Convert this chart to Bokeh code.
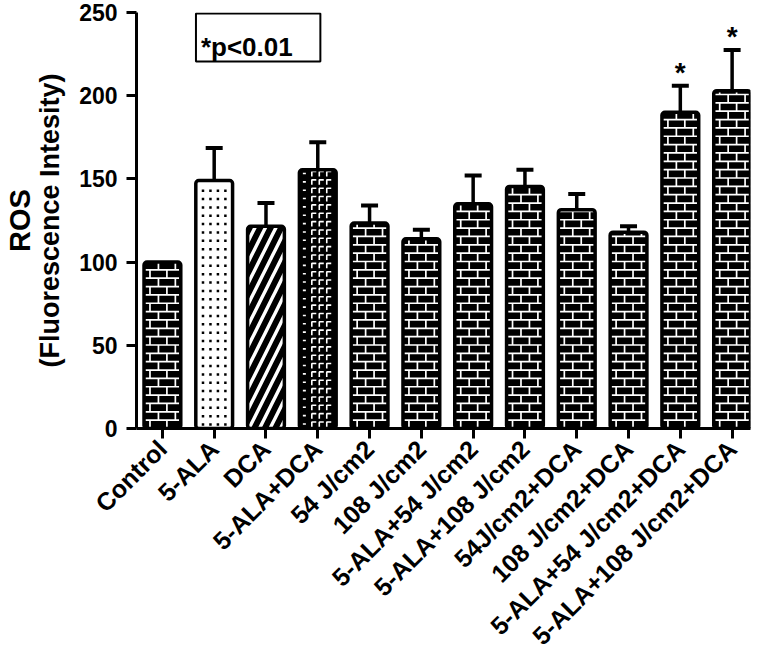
import math
from bokeh.plotting import figure
from bokeh.models import (ColumnDataSource, FixedTicker, Label, LinearAxis,
                          BoxAnnotation, Range1d)
from bokeh.core.properties import value
from bokeh.embed import file_html
from bokeh.resources import INLINE

# ---------------- data ----------------
categories = ["Control", "5-ALA", "DCA", "5-ALA+DCA", "54 J/cm2", "108 J/cm2",
              "5-ALA+54 J/cm2", "5-ALA+108 J/cm2", "54J/cm2+DCA", "108 J/cm2+DCA",
              "5-ALA+54 J/cm2+DCA", "5-ALA+108 J/cm2+DCA"]
ros_mean = [100, 149, 121.5, 155.5, 123.5, 114, 135, 145.5, 131.5, 118, 190, 203]
ros_sem = [0, 19.5, 14, 16.5, 10.5, 5.5, 17, 10, 9.5, 3.5, 16, 24.5]
significance = ["", "", "", "", "", "", "", "", "", "", "*", "*"]
y_ticks = [0, 50, 100, 150, 200, 250]

# ---------------- style ----------------
patterns = ["brick", "dots", "stripes", "hook", "brick", "brick", "brick",
            "brick", "brick", "brick", "brick", "brick"]
fill_for = {"brick": "black", "hook": "black", "dots": "white", "stripes": "white"}
BAR_W = 0.71
n = len(categories)
xs = list(range(n))

X_END = n - 1 + BAR_W / 2
FRAME_W, FRAME_H = 617, 416
X_PX = FRAME_W / (X_END + 0.5)       # pixels per x unit
Y_PX = FRAME_H / 250.0               # pixels per y unit


def dx(px):
    return px / X_PX


def dy(px):
    return px / Y_PX


def idx(name):
    return [i for i, k in enumerate(patterns) if k == name]


# ---- pattern marks (derived from bar values) ----
ROW = 8.35
BRICK = 17.0
BAR_PX = BAR_W * X_PX

bx0, by0, bx1, by1 = [], [], [], []
for i in idx("brick"):
    left, right, top = xs[i] - BAR_W / 2, xs[i] + BAR_W / 2, ros_mean[i]
    k = 0
    while dy(k * ROW) < top:
        y0 = dy(k * ROW)
        y1 = min(dy((k + 1) * ROW), top)
        if k > 0:
            bx0.append(left); by0.append(y0); bx1.append(right); by1.append(y0)
        j = 6.0 if k % 2 == 0 else 6.0 + BRICK / 2
        while j < BAR_PX - 3:
            bx0.append(left + dx(j)); by0.append(y0)
            bx1.append(left + dx(j)); by1.append(y1)
            j += BRICK
        k += 1

hook_x, hook_y = [], []
for i in idx("hook"):
    left, top = xs[i] - BAR_W / 2, ros_mean[i]
    k = 0
    while dy(k * ROW + 7.5) < top:
        base = k * ROW
        hook_x.append([left + dx(3.5), left + dx(6.5)])
        hook_y.append([dy(base + 4.5), dy(base + 4.5)])
        for c in (12.5, 20.0, 27.5):
            hook_x.append([left + dx(c), left + dx(c), left + dx(c + 4.5)])
            hook_y.append([dy(base + 1.5), dy(base + 6.5), dy(base + 6.5)])
        k += 1

dot_x, dot_y = [], []
for i in idx("dots"):
    top = ros_mean[i]
    k = 0
    while dy(4 + k * ROW) < top - dy(4):
        for c in (-11.25, -3.75, 3.75, 11.25):
            dot_x.append(xs[i] + dx(c)); dot_y.append(dy(4 + k * ROW))
        k += 1

# ---- sources ----
src = ColumnDataSource(dict(x=xs, top=ros_mean,
                            fill=[fill_for[k] for k in patterns]))
stripe_src = ColumnDataSource(dict(x=[xs[i] for i in idx("stripes")],
                                   top=[ros_mean[i] for i in idx("stripes")]))
err_idx = [i for i in range(n) if ros_sem[i] > 0]
err_src = ColumnDataSource(dict(
    x=[xs[i] for i in err_idx],
    lo=[ros_mean[i] for i in err_idx],
    hi=[ros_mean[i] + ros_sem[i] for i in err_idx],
))
star_src = ColumnDataSource(dict(
    x=xs, y=[m + s for m, s in zip(ros_mean, ros_sem)], t=significance,
))

p = figure(width=756, height=665, output_backend="svg", toolbar_location=None,
           x_range=Range1d(-0.5, X_END), y_range=Range1d(0, 250),
           min_border_left=133, min_border_right=6, min_border_top=12,
           min_border_bottom=237)
p.outline_line_color = None
p.xgrid.visible = False
p.ygrid.visible = False
p.background_fill_color = "white"

# error bars (upper only)
p.segment(x0="x", y0="lo", x1="x", y1="hi", source=err_src,
          line_color="black", line_width=3.5)
p.scatter(x="x", y="hi", source=err_src, marker="dash", size=17,
          line_color="black", line_width=4)

# bar fills
p.vbar(x="x", top="top", bottom=0, width=BAR_W, source=src,
       fill_color="fill", line_color=None, border_radius=3)
p.vbar(x="x", top="top", bottom=0, width=BAR_W, source=stripe_src,
       fill_color="white", line_color=None, hatch_pattern="right_diagonal_line",
       hatch_scale=21, hatch_weight=6, hatch_color="black")

# fill patterns
p.segment(x0=bx0, y0=by0, x1=bx1, y1=by1, line_color="white", line_width=1.7)
p.multi_line(xs=hook_x, ys=hook_y, line_color="white", line_width=1.6)
p.scatter(x=dot_x, y=dot_y, marker="square", size=2.5, fill_color="black",
          line_color=None)

# bar outlines
p.vbar(x="x", top="top", bottom=0, width=BAR_W, source=src,
       fill_color=None, line_color="black", line_width=3.5, border_radius=3)

# significance stars
p.text(x="x", y="y", text="t", source=star_src, text_font=value("Liberation Sans"),
       text_font_style="bold", text_font_size="28px", text_align="center",
       text_baseline="alphabetic", y_offset=-13, text_color="black")

# axes
for ax in (p.xaxis[0], p.yaxis[0]):
    ax.axis_line_width = 3
    ax.axis_line_color = "black"
    ax.major_tick_line_width = 3
    ax.major_tick_line_color = "black"
    ax.major_tick_out = 10
    ax.major_tick_in = 0
    ax.minor_tick_out = 0
    ax.minor_tick_in = 0
    ax.major_label_text_font = "Liberation Sans"
    ax.major_label_text_font_style = "bold"
    ax.major_label_text_color = "black"

p.yaxis.ticker = FixedTicker(ticks=y_ticks)
p.yaxis.major_label_text_font_size = "23px"
p.yaxis.major_label_standoff = 9
p.yaxis.axis_label = "(Fluorescence Intesity)"
p.yaxis.axis_label_text_font = "Liberation Sans"
p.yaxis.axis_label_text_font_style = "bold"
p.yaxis.axis_label_text_font_size = "27px"
p.yaxis.axis_label_text_color = "black"
p.yaxis.axis_label_standoff = 11

p.xaxis.ticker = FixedTicker(ticks=xs)
p.xaxis.major_label_overrides = {i: c for i, c in zip(xs, categories)}
p.xaxis.major_label_orientation = math.pi / 4
p.xaxis.major_label_text_font_size = "25px"
p.xaxis.major_label_standoff = 6

# outer y title "ROS" as a label-only axis
ros_axis = LinearAxis(ticker=FixedTicker(ticks=[]), axis_line_color=None,
                      major_tick_out=0, major_tick_in=0, minor_tick_out=0,
                      minor_tick_in=0, major_label_standoff=0,
                      axis_label="ROS", axis_label_standoff=-3,
                      axis_label_text_font="Liberation Sans",
                      axis_label_text_font_style="bold",
                      axis_label_text_font_size="29px",
                      axis_label_text_color="black")
p.add_layout(ros_axis, "left")

# p-value box
p.add_layout(BoxAnnotation(left=0.648, right=3.05, top=249.4, bottom=220.6,
                           fill_color=None, fill_alpha=0, line_color="black",
                           line_alpha=1, line_width=2))
p.add_layout(Label(x=0.744, y=229, text="*p<0.01", text_align="left",
                   text_baseline="alphabetic", text_font="Liberation Sans",
                   text_font_style="bold", text_font_size="26px",
                   text_color="black"))

open("out.html", "w").write(file_html(p, INLINE))
